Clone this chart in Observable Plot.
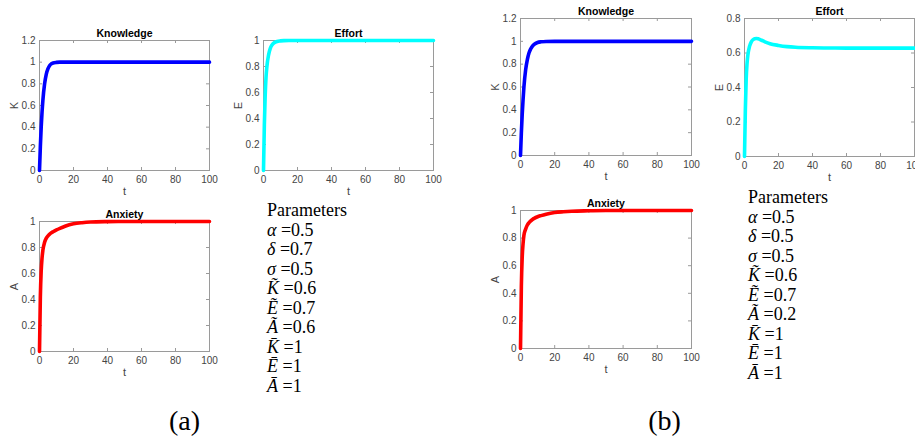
<!DOCTYPE html>
<html><head><meta charset="utf-8">
<script src="https://cdn.jsdelivr.net/npm/d3@7"></script>
<script src="https://cdn.jsdelivr.net/npm/@observablehq/plot@0.6"></script>
<style>
html,body{margin:0;padding:0;background:#fff;}
#fig{position:relative;width:915px;height:444px;overflow:hidden;background:#fff;}
#fig svg{position:absolute;overflow:visible;}
.params{position:absolute;font-family:"Liberation Serif",serif;font-size:18px;line-height:19.5px;color:#000;white-space:nowrap;}
.tag{position:absolute;width:80px;text-align:center;font-family:"Liberation Serif",serif;font-size:28px;line-height:28px;color:#000;}
</style></head><body><div id="fig"></div>
<script>
// time grid (t) shared by all series
const tGrid = [0,0.5,1,1.5,2,3,4,5,6,7,8,10,12,15,20,25,30,40,50,60,70,80,90,100];
// (a) series
const knowledgeA = [0,0.22,0.4,0.54,0.65,0.8,0.89,0.94,0.97,0.985,0.993,0.998,1,1,1,1,1,1,1,1,1,1,1,1];
const effortA    = [0,0.35,0.58,0.72,0.8,0.89,0.94,0.965,0.98,0.988,0.993,0.997,0.999,1,1,1,1,1,1,1,1,1,1,1];
const anxietyA   = [0,0.42,0.62,0.72,0.78,0.84,0.872,0.89,0.903,0.913,0.921,0.935,0.947,0.963,0.982,0.991,0.996,0.999,1,1,1,1,1,1];
// (b) series
const knowledgeB = [0,0.2,0.36,0.49,0.6,0.75,0.84,0.9,0.935,0.958,0.973,0.99,0.996,0.999,1,1,1,1,1,1,1,1,1,1];
const effortB    = [0,0.27,0.45,0.54,0.59,0.64,0.665,0.677,0.683,0.684,0.682,0.674,0.665,0.654,0.644,0.637,0.633,0.63,0.629,0.628,0.628,0.628,0.628,0.628];
const anxietyB   = [0,0.45,0.66,0.76,0.82,0.865,0.895,0.912,0.925,0.935,0.943,0.955,0.963,0.973,0.985,0.991,0.995,0.998,1,1,1,1,1,1];
// tick labels
const xTicks = [0,20,40,60,80,100];
const yTicks12 = [0,0.2,0.4,0.6,0.8,1,1.2];
const yTicks10 = [0,0.2,0.4,0.6,0.8,1];
const yTicks08 = [0,0.2,0.4,0.6,0.8];
// parameter text
const paramNames = ["\u03B1","\u03B4","\u03C3","K\u0303","E\u0303","A\u0303","K\u0304","E\u0304","A\u0304"];
const paramValuesA = ["0.5","0.7","0.5","0.6","0.7","0.6","1","1","1"];
const paramValuesB = ["0.5","0.5","0.5","0.6","0.7","0.2","1","1","1"];
const tags = ["(a)","(b)"];

const fig = document.getElementById("fig");
const FRAME = "#9a9a9a", LAB = "#444";

function panel({left, top, w, h, yDomain, yTicks, title, ylab, values, color}) {
  const mL = 40, mR = 14, mT = 22, mB = 34;
  const svg = Plot.plot({
    width: w + mL + mR, height: h + mT + mB,
    marginLeft: mL, marginRight: mR, marginTop: mT, marginBottom: mB,
    x: {domain: [0, 100]},
    y: {domain: yDomain},
    style: {fontFamily: "'Liberation Sans', Arial, sans-serif", fontSize: "10px", color: LAB, background: "transparent", overflow: "visible"},
    marks: [
      Plot.frame({stroke: FRAME}),
      Plot.tickY(yTicks, {y: d => d, stroke: FRAME, insetRight: w - 3}),
      Plot.tickY(yTicks, {y: d => d, stroke: FRAME, insetLeft: w - 3}),
      Plot.tickX(xTicks, {x: d => d, stroke: FRAME, insetTop: h - 3}),
      Plot.tickX(xTicks, {x: d => d, stroke: FRAME, insetBottom: h - 3}),
      Plot.axisX({ticks: xTicks, tickSize: 0, tickPadding: 5, tickFormat: d => String(d), label: null, fill: LAB}),
      Plot.axisY({ticks: yTicks, tickSize: 0, tickPadding: 4, tickFormat: d => String(d), label: null, fill: LAB}),
      Plot.line(tGrid, {x: d => d, y: (d, i) => values[i], stroke: color, strokeWidth: 3.6, curve: "monotone-x"}),
      Plot.text([title], {text: d => d, frameAnchor: "top", dy: -7, lineAnchor: "middle", fontWeight: "bold", fontSize: 10.5, fill: "#000"}),
      Plot.text([ylab], {text: d => d, frameAnchor: "left", dx: -25, rotate: -90, textAnchor: "middle", lineAnchor: "middle", fontSize: 11, fill: LAB}),
      Plot.text(["t"], {text: d => d, frameAnchor: "bottom", dy: 21, lineAnchor: "middle", textAnchor: "middle", fontSize: 11, fill: LAB})
    ]
  });
  svg.style.left = (left - mL) + "px";
  svg.style.top = (top - mT) + "px";
  fig.appendChild(svg);
}

panel({left: 39, top: 40, w: 170, h: 130, yDomain: [0, 1.2], yTicks: yTicks12, title: "Knowledge", ylab: "K", values: knowledgeA, color: "#0000ff"});
panel({left: 263, top: 40, w: 170, h: 130, yDomain: [0, 1], yTicks: yTicks10, title: "Effort", ylab: "E", values: effortA, color: "#00ffff"});
panel({left: 39, top: 221, w: 170, h: 130, yDomain: [0, 1], yTicks: yTicks10, title: "Anxiety", ylab: "A", values: anxietyA, color: "#ff0000"});
panel({left: 520, top: 18, w: 171, h: 137, yDomain: [0, 1.2], yTicks: yTicks12, title: "Knowledge", ylab: "K", values: knowledgeB, color: "#0000ff"});
panel({left: 744, top: 18, w: 170, h: 138, yDomain: [0, 0.8], yTicks: yTicks08, title: "Effort", ylab: "E", values: effortB, color: "#00ffff"});
panel({left: 520, top: 210, w: 171, h: 138, yDomain: [0, 1], yTicks: yTicks10, title: "Anxiety", ylab: "A", values: anxietyB, color: "#ff0000"});

function params(left, top, values) {
  const div = document.createElement("div");
  div.className = "params";
  div.style.left = left + "px";
  div.style.top = top + "px";
  let html = "Parameters<br>";
  html += paramNames.map((n, i) => `<i>${n}</i> =${values[i]}`).join("<br>");
  div.innerHTML = html;
  fig.appendChild(div);
}
params(267, 201, paramValuesA);
params(748, 188, paramValuesB);

function tag(cx, top, text) {
  const div = document.createElement("div");
  div.className = "tag";
  div.style.left = (cx - 40) + "px";
  div.style.top = top + "px";
  div.textContent = text;
  fig.appendChild(div);
}
tag(184.5, 407, tags[0]);
tag(664.5, 407, tags[1]);
</script>
</body></html>
